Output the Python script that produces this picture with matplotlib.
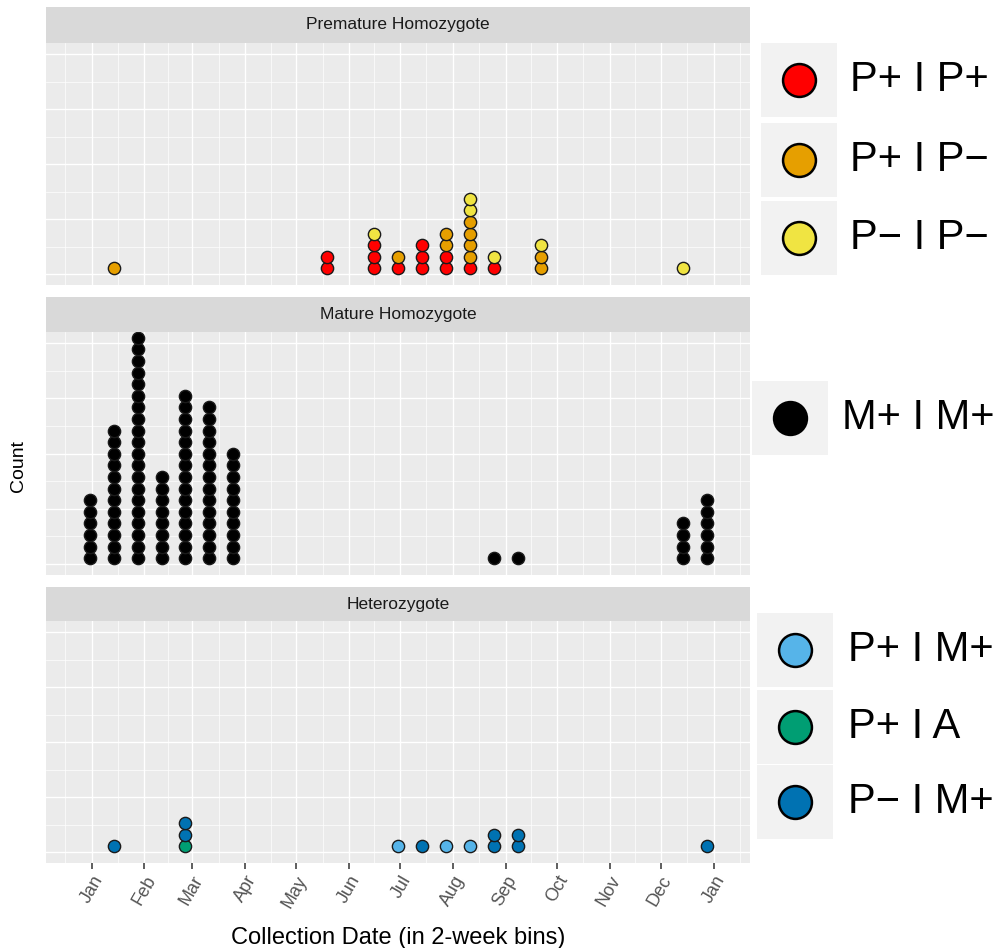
import numpy as np
import pandas as pd
import matplotlib
matplotlib.use("Agg")
import matplotlib.pyplot as plt
import matplotlib.dates as mdates
from matplotlib.patches import Rectangle
from matplotlib.ticker import FixedLocator, MultipleLocator, NullFormatter

plt.rcParams["font.family"] = ["Liberation Sans", "DejaVu Sans"]

W, H = 1001, 948

# --- data: bin centres (2-week bins) and counts per genotype ---
prem_dates = ["2015-01-14", "2015-05-19", "2015-06-16", "2015-06-30", "2015-07-14",
              "2015-07-28", "2015-08-11", "2015-08-25", "2015-09-22", "2015-12-14"]
prem_pp = [0, 2, 3, 1, 3, 2, 1, 1, 0, 0]   # P+ I P+
prem_pm = [1, 0, 0, 1, 0, 2, 4, 0, 2, 0]   # P+ I P-
prem_mm = [0, 0, 1, 0, 0, 0, 2, 1, 1, 1]   # P- I P-

mat_dates = ["2014-12-31", "2015-01-14", "2015-01-28", "2015-02-11", "2015-02-25",
             "2015-03-11", "2015-03-25", "2015-08-25", "2015-09-08", "2015-12-14",
             "2015-12-28"]
mat_mm = [6, 12, 20, 8, 15, 14, 10, 1, 1, 4, 6]   # M+ I M+

het_dates = ["2015-01-14", "2015-02-25", "2015-06-30", "2015-07-14", "2015-07-28",
             "2015-08-11", "2015-08-25", "2015-09-08", "2015-12-28"]
het_pm = [0, 0, 1, 0, 1, 1, 0, 0, 0]   # P+ I M+
het_pa = [0, 1, 0, 0, 0, 0, 0, 0, 0]   # P+ I A
het_mm = [1, 2, 0, 1, 0, 0, 2, 2, 1]   # P- I M+

facets = ["Premature Homozygote", "Mature Homozygote", "Heterozygote"]
labels = [["P+ I P+", "P+ I P\u2212", "P\u2212 I P\u2212"],
          ["M+ I M+"],
          ["P+ I M+", "P+ I A", "P\u2212 I M+"]]
colors = [["#FF0000", "#E69F00", "#F0E442"],
          ["#000000"],
          ["#56B4E9", "#009E73", "#0072B2"]]
series = [(prem_dates, [prem_pp, prem_pm, prem_mm]),
          (mat_dates, [mat_mm]),
          (het_dates, [het_pm, het_pa, het_mm])]

STEP = 0.0525  # stacking step in y units
BG = "#EBEBEB"
STRIP = "#D9D9D9"

fig = plt.figure(figsize=(W / 100, H / 100), dpi=100)


def px_axes(x0, y0, x1, y1, **kw):
    return fig.add_axes([x0 / W, 1 - y1 / H, (x1 - x0) / W, (y1 - y0) / H], **kw)


panel_boxes = [(46, 43, 750, 285), (46, 332, 750, 575), (46, 621, 750, 863)]
strip_boxes = [(46, 7, 750, 43), (46, 297, 750, 332), (46, 587, 750, 621)]

jan1 = mdates.date2num(pd.Timestamp("2015-01-01"))
xlim = (jan1 - 26.8, jan1 + 386.4)
month_starts = mdates.date2num(pd.date_range("2014-11-01", "2016-03-01", freq="MS"))
minor_ticks = (month_starts[:-1] + month_starts[1:]) / 2

for i, (box, sbox) in enumerate(zip(panel_boxes, strip_boxes)):
    ax = px_axes(*box)
    ax.set_facecolor(BG)
    for s in ax.spines.values():
        s.set_visible(False)
    ax.set_xlim(*xlim)
    ax.set_ylim(-0.05, 1.05)
    ax.xaxis.set_major_locator(mdates.MonthLocator())
    ax.xaxis.set_minor_locator(FixedLocator(minor_ticks))
    ax.xaxis.set_major_formatter(mdates.DateFormatter("%b"))
    ax.xaxis.set_minor_formatter(NullFormatter())
    ax.yaxis.set_major_locator(MultipleLocator(0.25))
    ax.yaxis.set_minor_locator(MultipleLocator(0.125))
    ax.set_yticklabels([])
    ax.tick_params(axis="y", which="both", length=0)
    ax.tick_params(axis="x", which="minor", length=0)
    ax.grid(True, which="major", color="white", linewidth=1.0)
    ax.grid(True, which="minor", color="white", linewidth=0.5)
    ax.set_axisbelow(True)

    dates, count_lists = series[i]
    xs_all = mdates.date2num(pd.to_datetime(dates))
    base = np.zeros(len(dates))
    for counts, col in zip(count_lists, colors[i]):
        xs, ys = [], []
        for x, b, c in zip(xs_all, base, counts):
            for j in range(c):
                xs.append(x)
                ys.append((b + j + 0.5) * STEP)
        base = base + np.array(counts)
        ax.scatter(xs, ys, s=78, facecolor=col, edgecolor="#1a1a1a",
                   linewidth=1.0, zorder=3)

    if i < 2:
        ax.tick_params(axis="x", which="major", length=0, labelbottom=False)
    else:
        ax.tick_params(axis="x", which="major", length=4, width=1.1,
                       color="#333333", labelcolor="#555555", labelsize=13, pad=3)
        for lab in ax.get_xticklabels():
            lab.set_rotation(60)
            lab.set_ha("right")
            lab.set_rotation_mode("anchor")
        ax.set_xlabel("Collection Date (in 2-week bins)", fontsize=17, labelpad=12)

    sax = px_axes(*sbox)
    sax.set_facecolor(STRIP)
    sax.set_xticks([])
    sax.set_yticks([])
    for s in sax.spines.values():
        s.set_visible(False)
    sax.text(0.5, 0.5, facets[i], ha="center", va="center", fontsize=12.5,
             color="#1A1A1A", transform=sax.transAxes)

fig.text(18 / W, 1 - 466 / H, "Count", rotation=90, ha="center", va="center",
         fontsize=14)

# --- legends, drawn on an overlay in pixel coordinates ---
lax = fig.add_axes([0, 0, 1, 1], zorder=5)
lax.set_xlim(0, W)
lax.set_ylim(H, 0)
lax.axis("off")

legend_layout = [
    (761, 850, [80, 160, 238]),
    (752, 842, [418]),
    (757, 848, [650, 727, 802]),
]
for (bx, tx, ycs), labs, cols in zip(legend_layout, labels, colors):
    for yc, lab, col in zip(ycs, labs, cols):
        lax.add_patch(Rectangle((bx, yc - 37), 76, 74, facecolor="#F2F2F2",
                                edgecolor="none"))
        lax.scatter([bx + 38], [yc], s=560, facecolor=col, edgecolor="black",
                    linewidth=1.8, zorder=3)
        lax.text(tx, yc, lab, ha="left", va="center", fontsize=30, color="black")

fig.savefig("out.png", dpi=100)
